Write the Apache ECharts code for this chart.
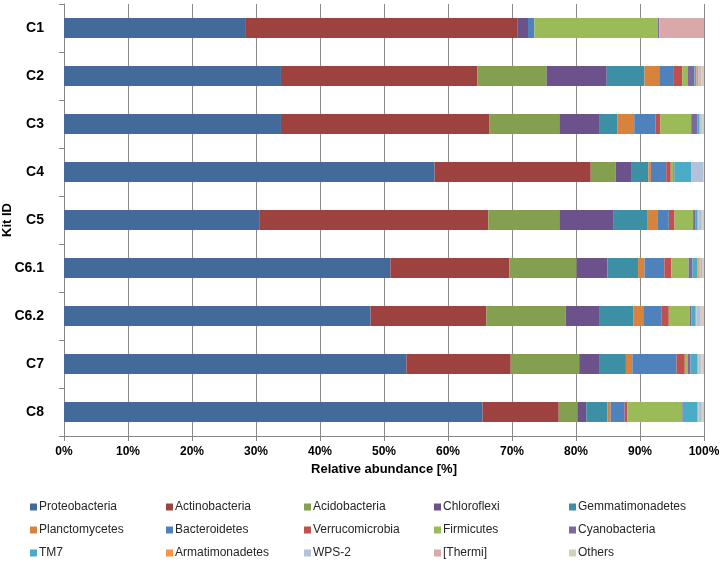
<!DOCTYPE html>
<html>
<head>
<meta charset="utf-8">
<script src="https://cdn.jsdelivr.net/npm/echarts@6/dist/echarts.min.js"></script>
<style>
  html, body { margin: 0; padding: 0; background: #fff; }
  #chart { width: 720px; height: 563px; }
</style>
</head>
<body>
<div id="chart"></div>
<script>
// kits (top to bottom)
var kits = ['C1', 'C2', 'C3', 'C4', 'C5', 'C6.1', 'C6.2', 'C7', 'C8']
var xTicks = [0, 10, 20, 30, 40, 50, 60, 70, 80, 90, 100]

// relative abundance [%] per phylum, one value per kit
var proteobacteria   = [28.3, 33.9, 33.9, 57.9, 30.6, 51.0, 47.9, 53.5, 65.4]
var actinobacteria   = [42.6, 30.7, 32.6, 24.4, 35.7, 18.6, 18.1, 16.3, 11.9]
var acidobacteria    = [0.0, 10.8, 10.9, 3.9, 11.1, 10.5, 12.4, 10.7, 2.9]
var chloroflexi      = [1.6, 9.4, 6.2, 2.4, 8.5, 4.8, 5.2, 3.1, 1.4]
var gemmatimonadetes = [0.0, 5.9, 2.9, 2.7, 5.2, 4.8, 5.4, 4.2, 3.3]
var planctomycetes   = [0.0, 2.3, 2.6, 0.4, 1.7, 1.0, 1.5, 1.0, 0.5]
var bacteroidetes    = [1.0, 2.3, 3.3, 2.4, 1.7, 3.1, 2.9, 6.9, 2.2]
var verrucomicrobia  = [0.0, 1.3, 0.8, 0.7, 0.9, 1.1, 1.1, 1.3, 0.4]
var firmicutes       = [19.3, 0.9, 4.8, 0.4, 2.9, 2.7, 3.3, 0.5, 8.6]
var cyanobacteria    = [0.2, 1.0, 1.0, 0.2, 0.4, 0.6, 0.2, 0.4, 0.1]
var tm7              = [0.0, 0.3, 0.3, 2.6, 0.3, 0.8, 0.7, 1.1, 2.3]
var armatimonadetes  = [0.0, 0.3, 0.1, 0.1, 0.1, 0.2, 0.1, 0.1, 0.1]
var wps2             = [0.0, 0.3, 0.2, 1.8, 0.5, 0.3, 0.6, 0.4, 0.5]
var thermi           = [7.0, 0.2, 0.1, 0.0, 0.1, 0.2, 0.1, 0.1, 0.1]
var others           = [0.0, 0.4, 0.3, 0.1, 0.3, 0.3, 0.5, 0.4, 0.3]

var phyla = [
  'Proteobacteria', 'Actinobacteria', 'Acidobacteria', 'Chloroflexi', 'Gemmatimonadetes',
  'Planctomycetes', 'Bacteroidetes', 'Verrucomicrobia', 'Firmicutes', 'Cyanobacteria',
  'TM7', 'Armatimonadetes', 'WPS-2', '[Thermi]', 'Others'
]
var values = [
  proteobacteria, actinobacteria, acidobacteria, chloroflexi, gemmatimonadetes,
  planctomycetes, bacteroidetes, verrucomicrobia, firmicutes, cyanobacteria,
  tm7, armatimonadetes, wps2, thermi, others
]
var colors = [
  '#436a9a', '#9e423f', '#839f4f', '#6b528a', '#3d8fa6',
  '#d8833b', '#4f81bd', '#c0504d', '#9bbb59', '#7d68a0',
  '#4bacc6', '#f79646', '#b3c2d8', '#d9a9a9', '#cdd1bd'
]

var font = 'Liberation Sans, Arial, sans-serif'

// legend: 5 columns of 3 rows, filled row by row
var legendLeft = [30, 166, 304, 434, 569]
var legends = legendLeft.map(function (left, c) {
  return {
    orient: 'vertical',
    left: left,
    top: 501,
    height: 70,
    padding: 0,
    itemWidth: 7,
    itemHeight: 7,
    itemGap: 11,
    icon: 'rect',
    selectedMode: false,
    textStyle: { fontFamily: font, fontSize: 12, color: '#262626', padding: [0, 0, 0, -3] },
    data: [phyla[c], phyla[c + 5], phyla[c + 10]]
  }
})

var chart = echarts.init(document.getElementById('chart'))
chart.setOption({
  animation: false,
  color: colors,
  grid: { left: 64, right: 16, top: 4, bottom: 127, outerBoundsMode: 'none', containLabel: false },
  legend: legends,
  xAxis: {
    type: 'value',
    min: xTicks[0],
    max: xTicks[xTicks.length - 1],
    interval: xTicks[1] - xTicks[0],
    name: 'Relative abundance [%]',
    nameLocation: 'middle',
    nameGap: 27,
    nameMoveOverlap: false,
    nameTextStyle: { fontFamily: font, fontSize: 13, fontWeight: 'bold', color: '#000' },
    axisLine: { show: true, lineStyle: { color: '#868686' } },
    axisTick: { show: true, length: 5, lineStyle: { color: '#868686' } },
    axisLabel: {
      margin: 10,
      fontFamily: font, fontSize: 12, fontWeight: 'bold', color: '#000',
      formatter: '{value}%'
    },
    splitLine: { show: true, lineStyle: { color: '#8a8a8a', width: 1 } }
  },
  yAxis: {
    type: 'category',
    data: kits,
    inverse: true,
    name: 'Kit ID',
    nameLocation: 'middle',
    nameGap: 50,
    nameMoveOverlap: false,
    nameTextStyle: { fontFamily: font, fontSize: 13, fontWeight: 'bold', color: '#000' },
    axisLine: { show: true, lineStyle: { color: '#868686' } },
    axisTick: { show: true, length: 5, lineStyle: { color: '#868686' } },
    axisLabel: { margin: 20, fontFamily: font, fontSize: 14, fontWeight: 'bold', color: '#000' }
  },
  series: phyla.map(function (name, i) {
    return {
      name: name,
      type: 'bar',
      stack: 'total',
      barWidth: 20,
      data: values[i],
      itemStyle: { color: colors[i] }
    }
  })
})
</script>
</body>
</html>
